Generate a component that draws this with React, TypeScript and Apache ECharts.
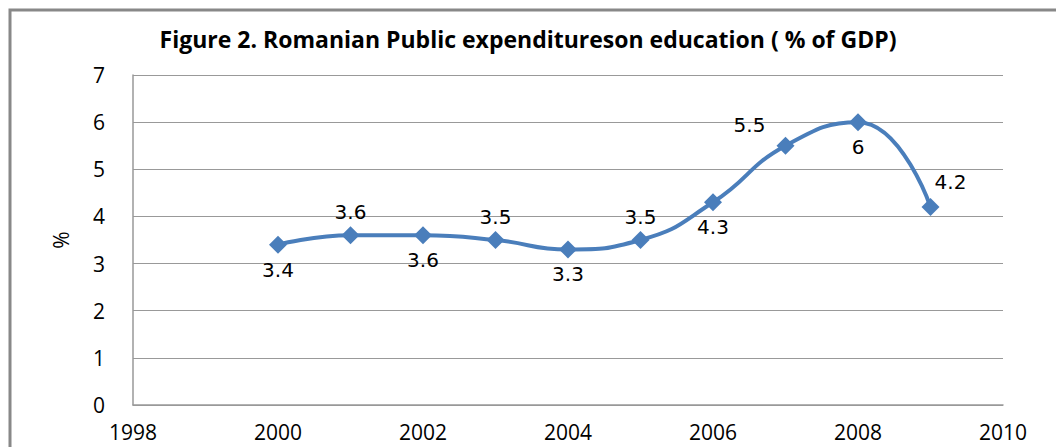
import React, { useEffect, useRef } from "react";
import * as echarts from "echarts";

const years = [2000, 2001, 2002, 2003, 2004, 2005, 2006, 2007, 2008, 2009];
const values = [3.4, 3.6, 3.6, 3.5, 3.3, 3.5, 4.3, 5.5, 6, 4.2];
const labelPlacement = ["bottom", "top", "bottom", "top", "bottom", "top", "bottom", "topLeft", "bottom", "topRight"];
const titleText = "Figure 2. Romanian Public expenditureson education ( % of GDP)";
const yAxisName = "%";

export default function App() {
  const ref = useRef<HTMLDivElement>(null);
  useEffect(() => {
    document.body.style.margin = "0";
    const chart = echarts.init(ref.current!, null, { renderer: "svg" });
    const data = years.map((y, i) => {
      const p = labelPlacement[i];
      let label: any = { position: "bottom", distance: 6 };
      if (p === "top") label = { position: "top", distance: 4 };
      if (p === "topLeft") label = { position: "top", distance: 2, offset: [-36, 0] };
      if (p === "topRight") label = { position: "top", distance: 6, offset: [20, 0] };
      return { value: [y, values[i]], label };
    });
    chart.setOption({
      animation: false,
      backgroundColor: "#ffffff",
      title: {
        text: titleText,
        left: "center",
        top: 22,
        textStyle: { fontFamily: "Open Sans", fontWeight: "bold", fontSize: 23, color: "#000" },
      },
      graphic: [
        {
          type: "rect",
          shape: { x: 10, y: 10, width: 1100, height: 600 },
          style: { fill: "none", stroke: "#888888", lineWidth: 3 },
          silent: true,
        },
      ],
      grid: { left: 133, right: 53, top: 75, bottom: 42 },
      xAxis: {
        type: "value",
        min: 1998,
        max: 2010,
        interval: 2,
        axisLine: { show: true, lineStyle: { color: "#999999", width: 1.5 } },
        axisTick: { show: false },
        splitLine: { show: false },
        axisLabel: {
          margin: 16,
          fontFamily: "Open Sans",
          fontSize: 21,
          color: "#000",
          formatter: (v: number) => String(v),
        },
      },
      yAxis: {
        type: "value",
        min: 0,
        max: 7,
        interval: 1,
        name: yAxisName,
        nameLocation: "middle",
        nameRotate: 90,
        nameGap: 62,
        nameTextStyle: { fontFamily: "Open Sans", fontSize: 21, color: "#000" },
        axisLine: { show: true, lineStyle: { color: "#999999", width: 1.5 } },
        axisTick: { show: false },
        splitLine: { show: true, lineStyle: { color: "#999999", width: 1.2 } },
        axisLabel: { margin: 28, fontFamily: "Open Sans", fontSize: 21, color: "#000" },
      },
      series: [
        {
          type: "line",
          data,
          smooth: 0.5,
          symbol: "diamond",
          symbolSize: 18,
          lineStyle: { color: "#4a7ebb", width: 4 },
          itemStyle: { color: "#4a7ebb" },
          label: {
            show: true,
            fontFamily: "DejaVu Sans",
            fontSize: 20,
            color: "#000",
            formatter: (p: any) => String(p.value[1]),
          },
        },
      ],
    });
    return () => chart.dispose();
  }, []);
  return <div ref={ref} style={{ width: 1056, height: 447 }} />;
}
